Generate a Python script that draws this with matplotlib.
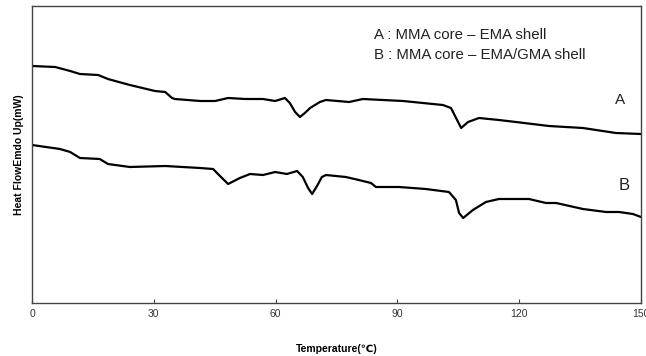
import matplotlib
matplotlib.use('Agg')
import matplotlib.pyplot as plt

# Curve A: MMA core - EMA shell (temperature in C, heat flow in arbitrary units)
temp_a = [0, 5.7, 9.4, 11.8, 16.3, 18.7, 24.1, 30.3, 32.8, 34.5, 35.2, 41.4, 45.1,
          48.3, 52.5, 56.9, 59.9, 62.3, 63.5, 64.8, 66.0, 67.2, 68.5, 70.9, 72.4,
          78.1, 81.5, 91.4, 101.2, 103.2, 104.2, 105.7, 107.4, 110.1, 115.0, 119.2,
          127.3, 135.7, 143.8, 150]
flow_a = [237, 236, 232, 229, 228, 224, 218, 212, 211, 205, 204, 202, 202,
          205, 204, 204, 202, 205, 200, 191, 186, 190, 195, 201, 203,
          201, 204, 202, 198, 195, 187, 175, 181, 185, 183, 181,
          177, 175, 170, 169]

# Curve B: MMA core - EMA/GMA shell
temp_b = [0, 6.9, 9.4, 11.8, 16.7, 18.7, 24.1, 32.8, 41.4, 44.6, 46.3, 48.3, 51.2,
          53.7, 56.9, 59.9, 62.8, 65.3, 66.7, 68.0, 69.0, 70.2, 71.4, 72.4, 77.3,
          80.5, 83.5, 84.7, 90.4, 97.0, 102.7, 104.4, 105.2, 106.2, 108.6, 111.8,
          115.0, 122.4, 126.6, 129.1, 135.7, 141.4, 144.6, 148.0, 150]
flow_b = [158, 154, 151, 145, 144, 139, 136, 137, 135, 134, 127, 119, 125,
          129, 128, 131, 129, 132, 126, 115, 109, 117, 126, 128, 126,
          123, 120, 116, 116, 114, 111, 103, 90, 85, 93, 101,
          104, 104, 100, 100, 94, 91, 91, 89, 86]

x_ticks = [0, 30, 60, 90, 120, 150]

fig = plt.figure(figsize=(6.46, 3.56), dpi=100)
ax = fig.add_axes([32 / 646, 53 / 356, 609 / 646, 297 / 356])

ax.plot(temp_a, flow_a, color='black', lw=1.6)
ax.plot(temp_b, flow_b, color='black', lw=1.6)

ax.set_xlim(0, 150)
ax.set_ylim(0, 297)
ax.set_xticks(x_ticks)
ax.set_yticks([])
ax.tick_params(axis='x', direction='in', length=3, width=0.8, color='#444444',
               labelsize=7.5, labelcolor='#333333', pad=4)
for s in ax.spines.values():
    s.set_color('#444444')
    s.set_linewidth(1.0)
for lab in ax.get_xticklabels():
    lab.set_fontfamily('Liberation Sans')

ax.set_xlabel('Temperature(\u2103)', fontsize=7.5, fontweight='bold',
              family=['Liberation Sans', 'DejaVu Sans'], labelpad=18)
ax.set_ylabel('Heat FlowEmdo Up(mW)', fontsize=7.5, fontweight='bold',
              family='Liberation Sans', labelpad=6)

fig.text(374 / 646, 1 - 35 / 356, 'A : MMA core \u2013 EMA shell', fontsize=10.8,
         family='Liberation Sans', va='center', ha='left', color='#222222')
fig.text(374 / 646, 1 - 55 / 356, 'B : MMA core \u2013 EMA/GMA shell', fontsize=10.8,
         family='Liberation Sans', va='center', ha='left', color='#222222')
fig.text(620 / 646, 1 - 100 / 356, 'A', fontsize=11, family='Liberation Sans',
         ha='center', va='center', color='#222222')
fig.text(624 / 646, 1 - 185 / 356, 'B', fontsize=12, family='Liberation Sans',
         ha='center', va='center', color='#222222')

fig.savefig('out.png', dpi=100)
